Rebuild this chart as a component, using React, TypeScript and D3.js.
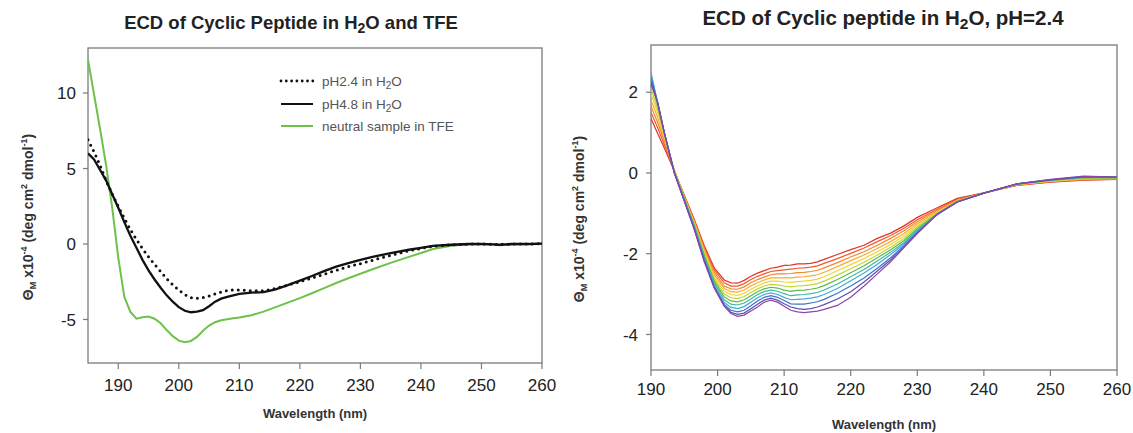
import React from "react";
import * as d3 from "d3";

// ---------- Left panel data ----------
const leftWavelengths = [185,186,187,188,189,190,191,192,193,194,195,196,197,198,199,200,201,202,203,204,205,206,207,208,209,210,212,214,216,218,220,222,224,226,228,230,232,235,238,240,242,245,248,250,252,253,255,258,260];
const ph24Values = [6.9,6.1,5.2,4.2,3.3,2.5,1.7,0.95,0.3,-0.3,-0.85,-1.35,-1.82,-2.3,-2.7,-3.05,-3.35,-3.55,-3.6,-3.55,-3.45,-3.3,-3.18,-3.08,-3.04,-3.05,-3.1,-3.1,-2.95,-2.72,-2.5,-2.25,-2.0,-1.75,-1.5,-1.3,-1.08,-0.75,-0.45,-0.3,-0.15,-0.05,0,0,-0.02,-0.03,0,0,0.02];
const ph48Values = [6.0,5.6,4.9,4.2,3.3,2.4,1.45,0.55,-0.25,-1.05,-1.75,-2.35,-2.9,-3.4,-3.82,-4.18,-4.42,-4.52,-4.48,-4.38,-4.12,-3.82,-3.62,-3.5,-3.4,-3.3,-3.22,-3.18,-3.0,-2.72,-2.42,-2.12,-1.8,-1.5,-1.26,-1.05,-0.85,-0.6,-0.38,-0.25,-0.13,-0.05,0,0,-0.02,-0.05,0,0,0.02];
const tfeValues = [12.2,9.9,7.6,5.2,2.4,-0.9,-3.5,-4.5,-4.95,-4.85,-4.8,-4.95,-5.25,-5.7,-6.1,-6.4,-6.5,-6.42,-6.15,-5.75,-5.4,-5.18,-5.05,-4.98,-4.92,-4.87,-4.72,-4.48,-4.18,-3.88,-3.58,-3.26,-2.92,-2.58,-2.27,-1.97,-1.67,-1.25,-0.85,-0.6,-0.33,-0.12,-0.02,0,-0.04,-0.09,-0.03,0,0.02];
const leftXTicks = [190,200,210,220,230,240,250,260];
const leftYTicks = [-5,0,5,10];
const leftLegend = ["pH2.4 in H\u2082O", "pH4.8 in H\u2082O", "neutral sample in TFE"];

// ---------- Right panel data ----------
const rightWavelengths = [190,191,192,193.5,195,196.5,198,199.5,201,202,203,204,205,206,207,208,209,210,211,212,213,214,215,216,218,220,222,224,226,228,230,233,236,240,245,250,255,260];
const scanRed = [1.35,0.98,0.62,0.05,-0.55,-1.15,-1.8,-2.35,-2.65,-2.72,-2.73,-2.66,-2.56,-2.48,-2.42,-2.36,-2.33,-2.29,-2.28,-2.25,-2.25,-2.24,-2.2,-2.14,-2.02,-1.9,-1.79,-1.62,-1.49,-1.31,-1.1,-0.86,-0.63,-0.49,-0.31,-0.23,-0.18,-0.16];
const scanRedOrange = [1.5,1.12,0.7,0.06,-0.57,-1.18,-1.84,-2.4,-2.72,-2.8,-2.8,-2.74,-2.64,-2.56,-2.5,-2.44,-2.42,-2.4,-2.38,-2.36,-2.35,-2.33,-2.3,-2.24,-2.12,-1.99,-1.86,-1.7,-1.55,-1.37,-1.16,-0.9,-0.65,-0.49,-0.3,-0.22,-0.17,-0.15];
const scanOrange = [1.65,1.25,0.78,0.07,-0.58,-1.2,-1.88,-2.46,-2.8,-2.87,-2.88,-2.82,-2.72,-2.64,-2.58,-2.52,-2.5,-2.5,-2.49,-2.47,-2.46,-2.44,-2.41,-2.35,-2.22,-2.08,-1.95,-1.79,-1.62,-1.43,-1.21,-0.93,-0.67,-0.5,-0.3,-0.21,-0.16,-0.14];
const scanLightOrange = [1.8,1.38,0.85,0.07,-0.6,-1.22,-1.92,-2.52,-2.86,-2.94,-2.95,-2.9,-2.8,-2.72,-2.65,-2.6,-2.6,-2.6,-2.6,-2.58,-2.57,-2.55,-2.52,-2.46,-2.32,-2.17,-2.03,-1.87,-1.7,-1.5,-1.26,-0.96,-0.68,-0.5,-0.29,-0.2,-0.15,-0.14];
const scanYellow = [1.95,1.5,0.9,0.06,-0.61,-1.25,-1.96,-2.58,-2.93,-3.01,-3.03,-2.98,-2.88,-2.8,-2.72,-2.68,-2.68,-2.7,-2.71,-2.69,-2.68,-2.66,-2.63,-2.57,-2.42,-2.27,-2.12,-1.95,-1.77,-1.56,-1.3,-0.98,-0.69,-0.5,-0.29,-0.2,-0.14,-0.13];
const scanYellowGreen = [2.1,1.58,0.94,0.05,-0.62,-1.27,-2.0,-2.63,-3.0,-3.09,-3.11,-3.06,-2.96,-2.87,-2.8,-2.76,-2.77,-2.8,-2.82,-2.8,-2.79,-2.77,-2.74,-2.68,-2.53,-2.37,-2.21,-2.03,-1.84,-1.62,-1.34,-1.0,-0.7,-0.5,-0.28,-0.19,-0.13,-0.12];
const scanGreen = [2.3,1.66,0.98,0.04,-0.64,-1.3,-2.04,-2.68,-3.07,-3.17,-3.19,-3.14,-3.04,-2.94,-2.87,-2.83,-2.85,-2.9,-2.93,-2.91,-2.9,-2.88,-2.85,-2.79,-2.64,-2.47,-2.3,-2.1,-1.9,-1.67,-1.38,-1.01,-0.71,-0.5,-0.28,-0.18,-0.12,-0.12];
const scanTeal = [2.5,1.72,1.0,0.03,-0.65,-1.32,-2.08,-2.73,-3.14,-3.25,-3.27,-3.22,-3.12,-3.01,-2.94,-2.9,-2.93,-2.99,-3.04,-3.02,-3.01,-2.99,-2.96,-2.9,-2.75,-2.57,-2.39,-2.18,-1.96,-1.72,-1.42,-1.02,-0.71,-0.5,-0.27,-0.18,-0.11,-0.11];
const scanCyan = [2.45,1.74,1.0,0.02,-0.67,-1.35,-2.12,-2.78,-3.21,-3.33,-3.36,-3.31,-3.2,-3.09,-3.01,-2.97,-3.01,-3.08,-3.14,-3.13,-3.12,-3.1,-3.07,-3.01,-2.86,-2.67,-2.48,-2.26,-2.02,-1.76,-1.45,-1.03,-0.72,-0.5,-0.27,-0.17,-0.1,-0.11];
const scanBlue = [2.35,1.75,1.0,0.01,-0.68,-1.37,-2.15,-2.82,-3.26,-3.4,-3.44,-3.4,-3.29,-3.17,-3.08,-3.04,-3.08,-3.16,-3.24,-3.25,-3.25,-3.22,-3.19,-3.13,-2.98,-2.8,-2.6,-2.36,-2.1,-1.8,-1.47,-1.03,-0.72,-0.5,-0.27,-0.17,-0.1,-0.1];
const scanIndigo = [2.25,1.75,1.0,0.0,-0.69,-1.39,-2.18,-2.84,-3.29,-3.45,-3.5,-3.47,-3.36,-3.25,-3.15,-3.1,-3.15,-3.24,-3.32,-3.36,-3.38,-3.36,-3.32,-3.26,-3.12,-2.94,-2.7,-2.43,-2.15,-1.83,-1.49,-1.02,-0.72,-0.5,-0.27,-0.17,-0.09,-0.1];
const scanViolet = [2.2,1.75,1.0,0.0,-0.7,-1.4,-2.2,-2.85,-3.3,-3.48,-3.55,-3.52,-3.42,-3.32,-3.2,-3.15,-3.2,-3.3,-3.4,-3.44,-3.46,-3.44,-3.42,-3.38,-3.28,-3.08,-2.8,-2.5,-2.2,-1.85,-1.5,-1.02,-0.72,-0.5,-0.27,-0.16,-0.08,-0.1];
const rainbowColors = ["#e4322b","#ee5a2a","#f5862a","#f8aa34","#f4d233","#bfd633","#5cb947","#3fb7a4","#43a8dc","#3f72c6","#5b4db3","#8c45ab"];
const rightXTicks = [190,200,210,220,230,240,250,260];
const rightYTicks = [-4,-2,0,2];

const FONT = "'Liberation Sans', Arial, Helvetica, sans-serif";

function YLabel({ x, y }: { x: number; y: number }) {
  return (
    <text
      transform={`translate(${x},${y}) rotate(-90)`}
      textAnchor="middle"
      fontFamily={FONT}
      fontWeight="bold"
      fontSize={14}
      fill="#333"
    >
      <tspan>Θ</tspan>
      <tspan fontSize={9} dy={3}>M</tspan>
      <tspan dy={-3}> x10</tspan>
      <tspan fontSize={9} dy={-6}>-4</tspan>
      <tspan dy={6}> (deg cm</tspan>
      <tspan fontSize={9} dy={-6}>2</tspan>
      <tspan dy={6}> dmol</tspan>
      <tspan fontSize={9} dy={-6}>-1</tspan>
      <tspan dy={6}>)</tspan>
    </text>
  );
}

function Frame({
  x, y, xTicks, yTicks, tickLabelY, yLabelX,
}: {
  x: d3.ScaleLinear<number, number>;
  y: d3.ScaleLinear<number, number>;
  xTicks: number[];
  yTicks: number[];
  tickLabelY: number;
  yLabelX: number;
}) {
  const [x0, x1] = x.range();
  const [y0, y1] = y.range();
  return (
    <g>
      <rect x={x0} y={y1} width={x1 - x0} height={y0 - y1} fill="none" stroke="#7a7a7a" strokeWidth={1.3} />
      {xTicks.map((t) => (
        <g key={"x" + t}>
          <line x1={x(t)} x2={x(t)} y1={y0} y2={y0 + 6} stroke="#7a7a7a" strokeWidth={1.2} />
          <text x={x(t)} y={tickLabelY} textAnchor="middle" fontFamily={FONT} fontSize={17} fill="#222">{t}</text>
        </g>
      ))}
      {yTicks.map((t) => (
        <g key={"y" + t}>
          <line x1={x0 - 5} x2={x0} y1={y(t)} y2={y(t)} stroke="#7a7a7a" strokeWidth={1.2} />
          <text x={yLabelX} y={y(t)} dy="0.36em" textAnchor="end" fontFamily={FONT} fontSize={17} fill="#222">{t}</text>
        </g>
      ))}
    </g>
  );
}

export default function App() {
  // Left panel scales
  const lx = d3.scaleLinear().domain([185, 260]).range([88, 542]);
  const ly = d3.scaleLinear().domain([-7.88, 12.98]).range([363, 48]);
  const lline = (vals: number[]) =>
    d3.line<number>().x((_, i) => lx(leftWavelengths[i])).y((v) => ly(v))(vals) || "";

  // Right panel scales
  const rx = d3.scaleLinear().domain([190, 260]).range([651, 1117]);
  const ry = d3.scaleLinear().domain([-4.88, 3.17]).range([370, 45]);
  const rline = (vals: number[]) =>
    d3.line<number>().x((_, i) => rx(rightWavelengths[i])).y((v) => ry(v))(vals) || "";

  const rainbowSeries = [scanRed, scanRedOrange, scanOrange, scanLightOrange, scanYellow, scanYellowGreen, scanGreen, scanTeal, scanCyan, scanBlue, scanIndigo, scanViolet];

  const legendX = 281;
  const legendRows = [81, 104, 126];

  return (
    <svg width={1133} height={433} style={{ display: "block", position: "absolute", left: 0, top: 0, background: "#fff" }}>
      <rect width={1133} height={433} fill="#fff" />
      <defs>
        <clipPath id="clipL"><rect x={88} y={48} width={454} height={315} /></clipPath>
        <clipPath id="clipR"><rect x={651} y={45} width={466} height={325} /></clipPath>
      </defs>
      {/* ---------- Left panel ---------- */}
      <text x={291} y={29} textAnchor="middle" fontFamily={FONT} fontWeight="bold" fontSize={18.5} fill="#222">
        ECD of Cyclic Peptide in H<tspan fontSize={14} dy={4}>2</tspan><tspan dy={-4}>O and TFE</tspan>
      </text>
      <Frame x={lx} y={ly} xTicks={leftXTicks} yTicks={leftYTicks} tickLabelY={391} yLabelX={76} />
      <g clipPath="url(#clipL)">
        <path d={lline(tfeValues)} fill="none" stroke="#6cc24a" strokeWidth={2} />
        <path d={lline(ph48Values)} fill="none" stroke="#111" strokeWidth={2.3} />
        <path d={lline(ph24Values)} fill="none" stroke="#111" strokeWidth={3} strokeDasharray="0 6" strokeLinecap="round" />
      </g>
      {leftLegend.map((label, i) => (
        <g key={label}>
          <line
            x1={legendX} x2={legendX + 32} y1={legendRows[i]} y2={legendRows[i]}
            stroke={i === 2 ? "#6cc24a" : "#111"}
            strokeWidth={i === 0 ? 2.8 : 2}
            strokeDasharray={i === 0 ? "0 5.3" : undefined}
            strokeLinecap={i === 0 ? "round" : "butt"}
          />
          <text x={legendX + 41} y={legendRows[i]} dy="0.36em" fontFamily={FONT} fontSize={13.5} fill="#555">
            {i < 2 ? (
              <>
                {label.slice(0, -2)}
                <tspan fontSize={10} dy={3}>2</tspan>
                <tspan dy={-3}>O</tspan>
              </>
            ) : label}
          </text>
        </g>
      ))}
      <text x={315} y={418} textAnchor="middle" fontFamily={FONT} fontWeight="bold" fontSize={13} fill="#333">Wavelength (nm)</text>
      <YLabel x={33} y={217} />

      {/* ---------- Right panel ---------- */}
      <text x={883} y={25} textAnchor="middle" fontFamily={FONT} fontWeight="bold" fontSize={20.5} fill="#222">
        ECD of Cyclic peptide in H<tspan fontSize={15.5} dy={4}>2</tspan><tspan dy={-4}>O, pH=2.4</tspan>
      </text>
      <Frame x={rx} y={ry} xTicks={rightXTicks} yTicks={rightYTicks} tickLabelY={395} yLabelX={638} />
      <g clipPath="url(#clipR)">
        {rainbowSeries.map((s, i) => (
          <path key={i} d={rline(s)} fill="none" stroke={rainbowColors[i]} strokeWidth={1.2} />
        ))}
      </g>
      <text x={884} y={429} textAnchor="middle" fontFamily={FONT} fontWeight="bold" fontSize={13} fill="#333">Wavelength (nm)</text>
      <YLabel x={584} y={219} />
    </svg>
  );
}
